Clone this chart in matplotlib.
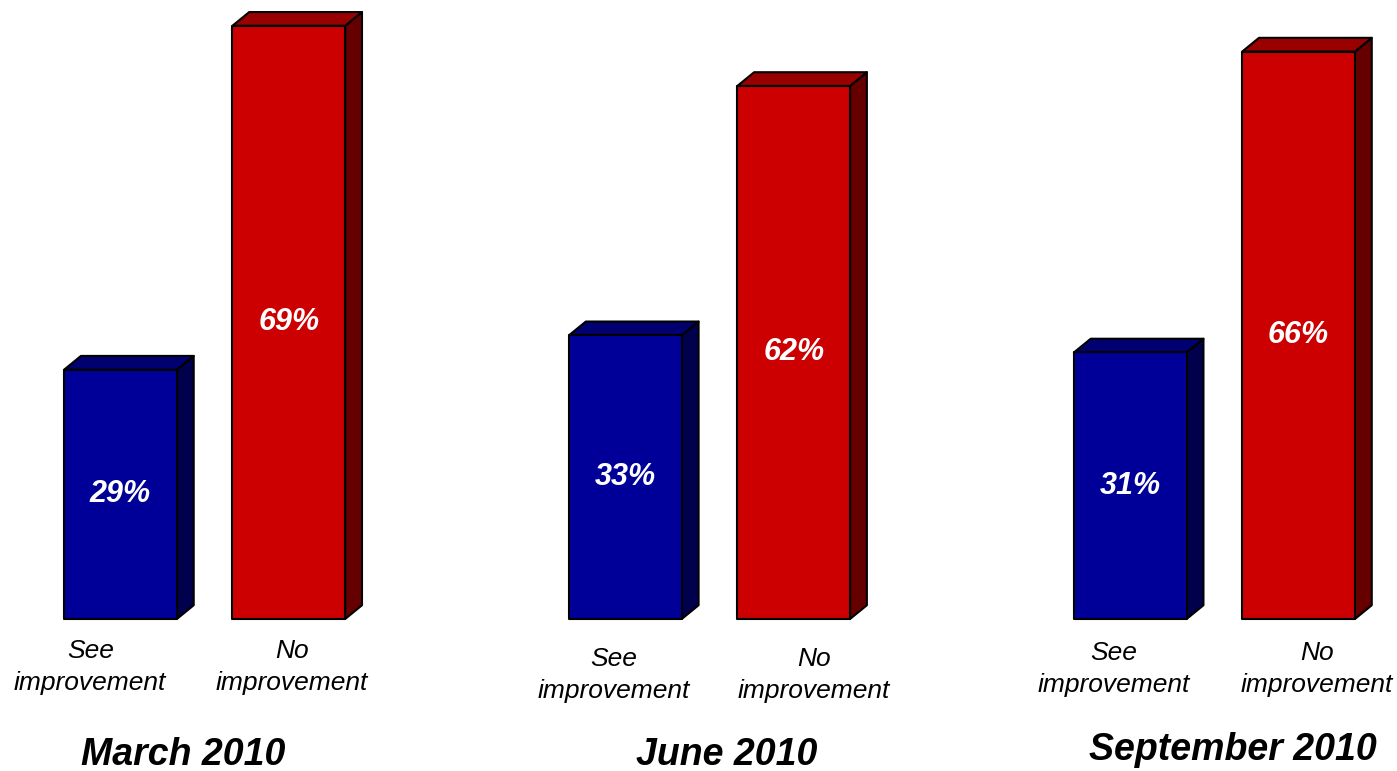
import matplotlib
matplotlib.use('Agg')
import matplotlib.pyplot as plt
from matplotlib.patches import Polygon

plt.rcParams['font.family'] = ['Liberation Sans', 'DejaVu Sans']

# data
periods = ['March 2010', 'June 2010', 'September 2010']
categories = ['See\nimprovement', 'No\nimprovement']
see_improvement = [29, 33, 31]
no_improvement = [69, 62, 66]

# colours: front, side, top
blue_faces = ('#000099', '#00004d', '#000070')
red_faces = ('#cc0000', '#660000', '#990000')

# layout (group spacing 3 units, bar spacing 1 unit)
bar_width = 0.67
depth_x = 0.10
depth_y = 1.6
label_offsets = [(-0.18, 1.02), (-0.07, 1.12), (-0.1, 1.11)]
label_y = [667, 675, 669]
title_offsets = [-0.13, 0.1, 0.11]
title_y = [755, 755, 750]

W, H = 1397, 771


def draw_bar(ax, x, value, faces):
    """
    draw one 3d looking bar centred at x with height value
    """
    front, side, top = faces
    left = x - bar_width / 2
    right = x + bar_width / 2
    side_poly = Polygon([(right, 0), (right + depth_x, depth_y),
                         (right + depth_x, value + depth_y), (right, value)],
                        facecolor=side, edgecolor='black', lw=1.5, joinstyle='round')
    top_poly = Polygon([(left, value), (right, value),
                        (right + depth_x, value + depth_y), (left + depth_x, value + depth_y)],
                       facecolor=top, edgecolor='black', lw=1.5, joinstyle='round')
    front_poly = Polygon([(left, 0), (right, 0), (right, value), (left, value)],
                         facecolor=front, edgecolor='black', lw=1.5, joinstyle='round')
    for p in (side_poly, top_poly, front_poly):
        p.set_clip_on(False)
        ax.add_patch(p)
    ax.text(x, value / 2, f'{value}%', color='white', fontsize=22,
            fontweight='bold', fontstyle='italic', ha='center', va='center')


fig = plt.figure(figsize=(W / 100, H / 100), dpi=100)
ax = fig.add_axes([0, 152 / H, 1, 619 / H])
ax.set_xlim(-0.716, 7.585)
ax.set_ylim(0, 72)
ax.axis('off')

for i, period in enumerate(periods):
    x_blue = i * 3
    x_red = i * 3 + 1
    draw_bar(ax, x_blue, see_improvement[i], blue_faces)
    draw_bar(ax, x_red, no_improvement[i], red_faces)

    # category labels below the bars
    ly = 1 - label_y[i] / H
    for j, cat in enumerate(categories):
        xd = x_blue + label_offsets[i][j]
        xf = fig.transFigure.inverted().transform(ax.transData.transform((xd, 0)))[0]
        fig.text(xf, ly, cat, fontsize=19, fontstyle='italic',
                 ha='center', va='center', linespacing=1.45)

    # period title
    xt = fig.transFigure.inverted().transform(ax.transData.transform((x_blue + 0.5 + title_offsets[i], 0)))[0]
    fig.text(xt, 1 - title_y[i] / H, period, fontsize=27, fontweight='bold',
             fontstyle='italic', ha='center', va='center')

fig.savefig('out.png', dpi=100)
